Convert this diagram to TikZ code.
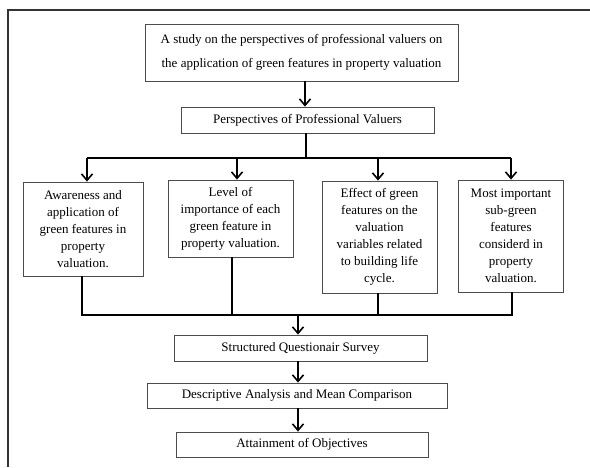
\documentclass[tikz,border=0pt]{standalone}
\usepackage{fontspec}
\setmainfont{Liberation Serif}
\usetikzlibrary{positioning,arrows.meta}

\begin{document}
\begin{tikzpicture}[x=1pt, y=-1pt,
	box/.style={draw=black!70, line width=0.8pt, align=center, inner sep=0pt, font=\fontsize{13}{17}\selectfont},
	link/.style={line width=1.6pt},
	arr/.style={link, -{Straight Barb[length=6.5pt,width=11pt]}}]
	\useasboundingbox (0,0) rectangle (590,467);
	\draw[black!80, line width=1.2pt] (8,467) -- (8,10) -- (590,10);
	% top of the flow
	\node[box, minimum width=313pt, minimum height=57pt, font=\fontsize{13}{24}\selectfont] (study) at (301.5,52.5)
		{A study on the perspectives of professional valuers on\\the application of green features in property valuation};
	\node[box, minimum width=253pt, minimum height=26pt] (persp) at (307.5,120) {Perspectives of Professional Valuers};
	% the four objectives
	\node[box, minimum width=120pt, minimum height=94pt] (aware) at (83,229)
		{Awareness and\\application of\\green features in\\property\\valuation.};
	\node[box, minimum width=125pt, minimum height=77pt] (level) at (230.5,218.5)
		{Level of\\importance of each\\green feature in\\property valuation.};
	\node[box, minimum width=115pt, minimum height=112pt] (effect) at (379.5,237)
		{Effect of green\\features on the\\valuation\\variables related\\to building life\\cycle.};
	\node[box, minimum width=105pt, minimum height=112pt] (sub) at (511,236)
		{Most important\\sub-green\\features\\considerd in\\property\\valuation.};
	% method
	\node[box, minimum width=253pt, minimum height=26pt] (survey) at (300.5,348) {Structured Questionair Survey};
	\node[box, minimum width=300pt, minimum height=25pt] (analysis) at (297,395.5) {Descriptive Analysis and Mean Comparison};
	\node[box, minimum width=252pt, minimum height=25pt] (goal) at (302,444.5) {Attainment of Objectives};
	\coordinate (split) at (306,158);
	\coordinate (join) at (298,315);
	\draw[arr] ([xshift=3.5pt]study.south) -- ([xshift=-2.5pt]persp.north);
	\draw[link] (persp.south -| split) -- (split);
	\draw[link] ([xshift=4pt]aware.north |- split) -- (sub.north |- split);
	\draw[arr] ([xshift=4pt]aware.north |- split) -- ([xshift=4pt]aware.north);
	\draw[arr] ([xshift=6.5pt]level.north |- split) -- ([xshift=6.5pt]level.north);
	\draw[arr] ([xshift=-1.5pt]effect.north |- split) -- ([xshift=-1.5pt]effect.north);
	\draw[arr] (sub.north |- split) -- (sub.north);
	\draw[link] ([xshift=-1pt]aware.south) |- (join) -| ([xshift=1pt]sub.south);
	\draw[link] ([xshift=1.5pt]level.south) -- ([xshift=1.5pt]level.south |- join);
	\draw[link] ([xshift=-1.5pt]effect.south) -- ([xshift=-1.5pt]effect.south |- join);
	\draw[arr] (join) -- (survey.north -| join);
	\draw[arr] (survey.south -| join) -- (analysis.north -| join);
	\draw[arr] (analysis.south -| join) -- (goal.north -| join);
\end{tikzpicture}
\end{document}
